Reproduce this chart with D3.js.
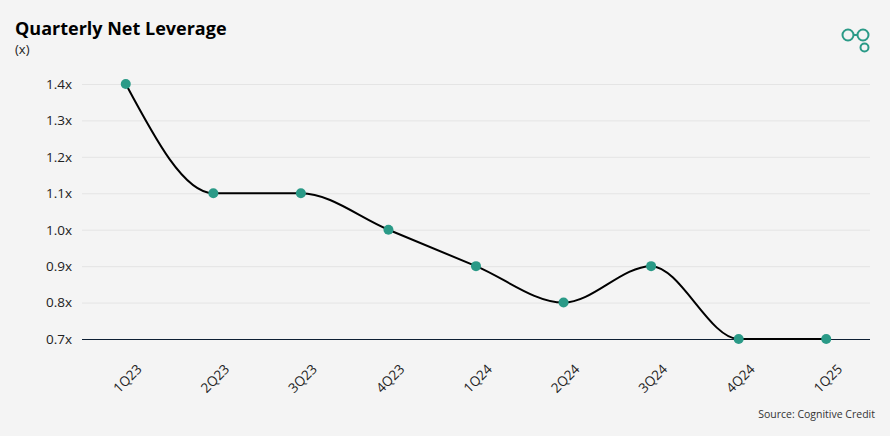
<!DOCTYPE html>
<html>
<head>
<meta charset="utf-8">
<script src="https://cdn.jsdelivr.net/npm/d3@7"></script>
<style>
  body { margin: 0; background: #f4f4f4; }
  svg { display: block; font-family: "Open Sans", sans-serif; }
</style>
</head>
<body>
<svg width="890" height="436"></svg>
<script>
// quarterly net leverage
const quarters = ['1Q23', '2Q23', '3Q23', '4Q23', '1Q24', '2Q24', '3Q24', '4Q24', '1Q25'];
const leverage = [1.4, 1.1, 1.1, 1.0, 0.9, 0.8, 0.9, 0.7, 0.7];
const yTicks = [0.7, 0.8, 0.9, 1.0, 1.1, 1.2, 1.3, 1.4];

const teal = '#2a9a87';
const svg = d3.select('svg');

svg.append('rect')
  .attr('width', 890)
  .attr('height', 436)
  .attr('fill', '#f4f4f4');

const plotLeft = 82, plotRight = 870;
const plotTop = 84, plotBottom = 339;

const xScale = d3.scaleBand()
  .domain(quarters)
  .range([plotLeft, plotRight]);

const yScale = d3.scaleLinear()
  .domain([0.7, 1.4])
  .range([plotBottom, plotTop]);

// grid
svg.append('g')
  .attr('transform', `translate(${plotLeft}, 0)`)
  .call(d3.axisLeft(yScale)
    .tickValues(yTicks)
    .tickSize(-(plotRight - plotLeft))
    .tickFormat(''))
  .call(g => g.select('.domain').remove())
  .call(g => g.selectAll('line').attr('stroke', '#e4e4e4'));

// y labels
svg.append('g')
  .attr('transform', `translate(${plotLeft}, 0)`)
  .call(d3.axisLeft(yScale)
    .tickValues(yTicks)
    .tickSize(0)
    .tickPadding(10)
    .tickFormat(d => d.toFixed(1) + 'x'))
  .call(g => g.select('.domain').remove())
  .call(g => g.selectAll('text')
    .attr('font-size', 13.5)
    .attr('fill', '#222')
    .attr('font-family', '"Open Sans", sans-serif'));

// baseline
svg.append('line')
  .attr('x1', plotLeft)
  .attr('x2', plotRight)
  .attr('y1', yScale(0.7) + 0.5)
  .attr('y2', yScale(0.7) + 0.5)
  .attr('stroke', '#0d1f33')
  .attr('stroke-width', 1.2);

// x labels
svg.append('g')
  .attr('transform', `translate(0, ${plotBottom})`)
  .call(d3.axisBottom(xScale).tickSize(0).tickPadding(0))
  .call(g => g.select('.domain').remove())
  .call(g => g.selectAll('text')
    .attr('font-size', 13.5)
    .attr('fill', '#222')
    .attr('font-family', '"Open Sans", sans-serif')
    .attr('text-anchor', 'end')
    .attr('dy', 0)
    .attr('transform', 'translate(17, 31) rotate(-45)'));

const cx = d => xScale(d) + xScale.bandwidth() / 2;

const line = d3.line()
  .x((d, i) => cx(quarters[i]))
  .y(d => yScale(d))
  .curve(d3.curveMonotoneX);

svg.append('path')
  .datum(leverage)
  .attr('d', line)
  .attr('fill', 'none')
  .attr('stroke', '#000')
  .attr('stroke-width', 2);

svg.selectAll('.dot')
  .data(leverage)
  .enter()
  .append('circle')
  .attr('class', 'dot')
  .attr('cx', (d, i) => cx(quarters[i]))
  .attr('cy', d => yScale(d))
  .attr('r', 5)
  .attr('fill', teal);

// title
svg.append('text')
  .attr('x', 15)
  .attr('y', 35)
  .attr('font-size', 18)
  .attr('font-weight', 700)
  .attr('fill', '#000')
  .text('Quarterly Net Leverage');

svg.append('text')
  .attr('x', 15)
  .attr('y', 54)
  .attr('font-size', 13)
  .attr('fill', '#222')
  .text('(x)');

svg.append('text')
  .attr('x', 875)
  .attr('y', 418)
  .attr('text-anchor', 'end')
  .attr('font-size', 10.5)
  .attr('fill', '#333')
  .text('Source: Cognitive Credit');

// logo
const logo = svg.append('g')
  .attr('fill', 'none')
  .attr('stroke', teal)
  .attr('stroke-width', 2);
logo.append('circle').attr('cx', 848).attr('cy', 35).attr('r', 5.5);
logo.append('circle').attr('cx', 863).attr('cy', 35).attr('r', 5.5);
logo.append('line').attr('x1', 853.5).attr('x2', 857.5).attr('y1', 35).attr('y2', 35);
logo.append('circle').attr('cx', 864.5).attr('cy', 47.5).attr('r', 4);
</script>
</body>
</html>
